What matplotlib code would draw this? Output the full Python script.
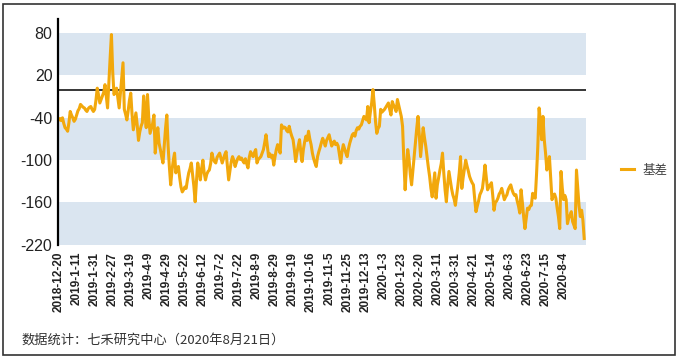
import matplotlib.pyplot as plt
from matplotlib.patches import Rectangle

plt.rcParams['font.family'] = ['Liberation Sans', 'Noto Sans CJK SC', 'DejaVu Sans']

# x labels, one every 14 trading days
tick_labels = ['2018-12-20', '2019-1-11', '2019-1-31', '2019-2-27', '2019-3-19', '2019-4-9',
               '2019-4-29', '2019-5-22', '2019-6-12', '2019-7-2', '2019-7-22', '2019-8-9',
               '2019-8-29', '2019-9-19', '2019-10-16', '2019-11-5', '2019-11-25', '2019-12-13',
               '2020-1-3', '2020-1-23', '2020-2-20', '2020-3-11', '2020-3-31', '2020-4-21',
               '2020-5-14', '2020-6-3', '2020-6-23', '2020-7-15', '2020-8-4']
tick_step = 14

# 基差 (basis), one value per trading day
basis = [
    -43, -41, -44, -40, -48, -54, -56, -59, -47, -31, -36, -40, -45, -42,
    -36, -30, -27, -21, -23, -25, -26, -29, -31, -27, -25, -24, -28, -31,
    -28, -15, 2, -8, -19, -14, -9, -4, 7, -10, -26, 10, 45, 78,
    25, -7, -3, 2, -12, -26, -5, 15, 38, -28, -35, -43, -30, -15,
    -5, -35, -57, -45, -33, -50, -72, -60, -52, -47, -9, -30, -54, -7,
    -40, -62, -55, -48, -36, -90, -70, -54, -76, -85, -95, -104, -80, -55,
    -36, -80, -110, -135, -115, -100, -90, -118, -112, -109, -125, -138, -145, -142,
    -138, -140, -128, -118, -112, -104, -120, -137, -159, -130, -104, -115, -128, -112,
    -100, -118, -128, -120, -116, -114, -105, -90, -98, -102, -104, -96, -93, -90,
    -97, -104, -98, -92, -88, -108, -128, -115, -102, -95, -100, -109, -103, -98,
    -95, -99, -97, -101, -104, -98, -105, -111, -96, -88, -92, -95, -89, -85,
    -104, -99, -97, -95, -90, -85, -75, -64, -80, -95, -91, -96, -93, -107,
    -95, -85, -78, -84, -90, -50, -55, -53, -54, -58, -60, -52, -60, -66,
    -71, -85, -102, -90, -80, -71, -88, -102, -85, -74, -66, -72, -59, -70,
    -78, -90, -98, -104, -109, -95, -88, -82, -75, -69, -74, -80, -72, -68,
    -64, -72, -80, -76, -73, -78, -76, -80, -92, -104, -88, -78, -84, -90,
    -95, -84, -76, -70, -64, -62, -66, -58, -54, -56, -52, -50, -44, -38,
    -40, -43, -24, -47, -32, -19, 0, -20, -45, -62, -55, -52, -28, -32,
    -30, -28, -25, -22, -19, -28, -36, -17, -22, -26, -31, -14, -22, -30,
    -38, -52, -100, -142, -110, -85, -98, -120, -135, -115, -95, -75, -55, -38,
    -65, -95, -75, -54, -68, -80, -95, -110, -123, -140, -152, -135, -118, -154,
    -135, -125, -114, -105, -90, -118, -142, -159, -135, -116, -128, -140, -149, -155,
    -164, -150, -135, -118, -95, -140, -125, -112, -100, -108, -115, -123, -128, -132,
    -135, -155, -173, -165, -158, -149, -145, -140, -125, -107, -125, -142, -138, -135,
    -132, -150, -171, -160, -158, -154, -148, -145, -140, -148, -156, -152, -149, -142,
    -138, -135, -142, -147, -150, -149, -158, -165, -175, -142, -160, -180, -197, -182,
    -168, -170, -165, -164, -147, -152, -154, -120, -80, -26, -45, -71, -38, -71,
    -90, -114, -105, -95, -125, -156, -150, -148, -154, -168, -180, -197, -116, -140,
    -156, -150, -156, -190, -182, -178, -173, -187, -192, -197, -114, -140, -165, -180,
    -171, -185, -211,
]

y_ticks = [-220, -160, -100, -40, 20, 80]
bands = [(-220, -160), (-100, -40), (20, 80)]

fig = plt.figure(figsize=(6.78, 3.59), dpi=100)
ax = fig.add_axes([0.0855, 0.318, 0.779, 0.629])

n = len(basis)
for lo, hi in bands:
    ax.axhspan(lo, hi, color='#DAE5F0', lw=0, zorder=0)
ax.axhline(0, color='black', lw=1.1, zorder=1)
ax.plot(range(n), basis, color='#F2A80C', lw=2.2, label='基差', zorder=2)

ax.set_xlim(-0.5, n + 0.5)
ax.set_ylim(-220, 100)
ax.set_yticks(y_ticks)
ax.set_yticklabels([str(v) for v in y_ticks], fontsize=11.5, color='#222222')
ax.set_xticks(range(0, tick_step * len(tick_labels), tick_step))
ax.set_xticklabels(tick_labels, rotation=90, fontsize=8.5, fontweight='bold',
                   color='#222222', va='top', ha='center')
ax.tick_params(axis='both', length=0)
ax.tick_params(axis='y', pad=4)
ax.tick_params(axis='x', pad=5)

for s in ['top', 'right', 'bottom']:
    ax.spines[s].set_visible(False)
ax.spines['left'].set_linewidth(1.6)
ax.spines['left'].set_color('black')

leg = fig.legend(loc='center left', bbox_to_anchor=(0.916, 0.526), frameon=False,
                 fontsize=9, handlelength=1.0, handletextpad=0.7,
                 borderaxespad=0, borderpad=0)
for t in leg.get_texts():
    t.set_color('#404040')
    t.set_family(['Noto Sans CJK SC', 'DejaVu Sans'])

fig.text(0.032, 0.053, '数据统计：七禾研究中心（2020年8月21日）', fontsize=9.5,
         color='#333333', family=['Noto Sans CJK SC', 'DejaVu Sans'], va='center')

# outer frame
fig.patches.append(Rectangle((0.005, 0.01), 0.99, 0.978, transform=fig.transFigure,
                             fill=False, edgecolor='#333333', lw=1.2))

fig.savefig('out.png', dpi=100)
